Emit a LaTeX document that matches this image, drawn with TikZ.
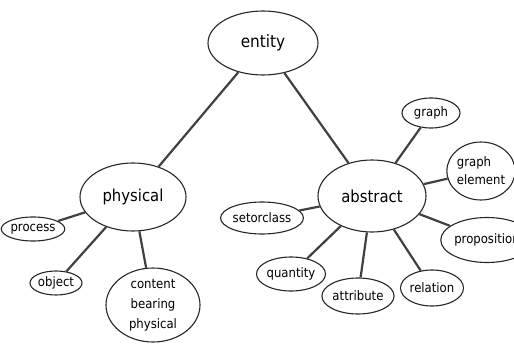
\documentclass[tikz,border=0pt]{standalone}
\usepackage{fontspec}
\setsansfont{DejaVu Sans Condensed}
\usetikzlibrary{shapes.geometric}

\begin{document}
\begin{tikzpicture}[x=1pt,y=-1pt,
		concept/.style={ellipse, draw=black!85, line width=1.1pt, inner sep=0pt, font=\sffamily\fontsize{13}{18}\selectfont},
		big/.style={font=\sffamily\fontsize{16.5}{20}\selectfont},
		link/.style={line width=2.2pt, draw=black!75}]
		\useasboundingbox (0,0) rectangle (514,345);
		% top and the two main branches
		\node[concept,big,minimum width=110,minimum height=64,font=\sffamily\fontsize{17}{20}\selectfont] (entity) at (263,43) {entity};
		\node[concept,big,minimum width=106,minimum height=68] (physical) at (133,197) {physical};
		\node[concept,big,minimum width=108,minimum height=72] (abstract) at (372,196) {abstract};
		% physical side
		\node[concept,minimum width=54,minimum height=24] (process) at (33,229) {process};
		\node[concept,minimum width=52,minimum height=24] (object) at (56,283) {object};
		\node[concept,minimum width=94,minimum height=74,align=center,font=\sffamily\fontsize{13}{20}\selectfont] (content) at (153,305) {content\\bearing\\physical};
		% abstract side
		\node[concept,minimum width=58,minimum height=30] (graph) at (431,113) {graph};
		\node[concept,minimum width=66,minimum height=58,align=left] (element) at (481,171) {graph\\element};
		\node[concept,minimum width=88,minimum height=45] (proposition) at (487,240) {proposition};
		\node[concept,minimum width=72,minimum height=32] (setorclass) at (262,218) {setorclass};
		\node[concept,minimum width=56,minimum height=34] (quantity) at (291,274) {quantity};
		\node[concept,minimum width=64,minimum height=36] (attribute) at (358,296) {attribute};
		\node[concept,minimum width=58,minimum height=36] (relation) at (432,288) {relation};
		% connectors
		\draw[link] (entity) -- (physical);
		\draw[link] (entity) -- (abstract);
		\draw[link] (physical) -- (process);
		\draw[link] (physical) -- (object);
		\draw[link] (physical) -- (content);
		\draw[link] (abstract) -- (graph);
		\draw[link] (abstract) -- (element);
		\draw[link] (abstract) -- (proposition);
		\draw[link] (abstract) -- (setorclass);
		\draw[link] (abstract) -- (quantity);
		\draw[link] (abstract) -- (attribute);
		\draw[link] (abstract) -- (relation);
	\end{tikzpicture}
\end{document}
